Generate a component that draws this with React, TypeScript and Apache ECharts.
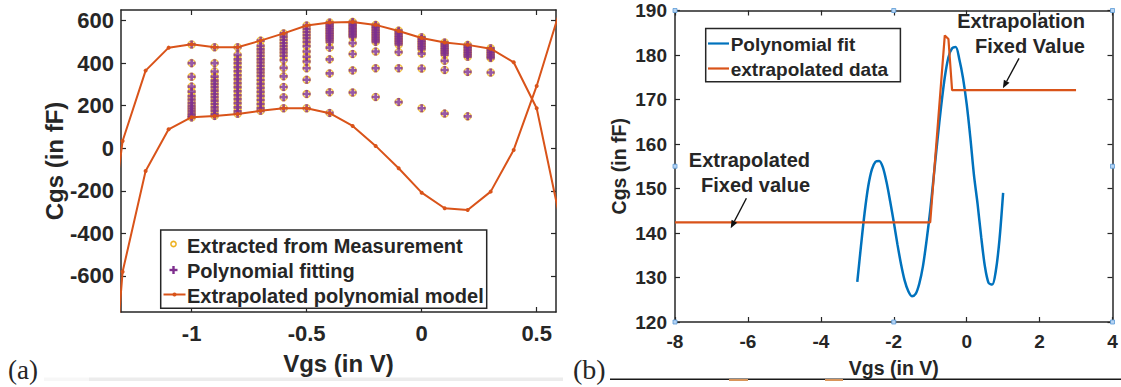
import React, { useEffect, useRef } from "react";
import * as echarts from "echarts";

// ---------------- Panel (a) : Cgs vs Vgs, polynomial model ----------------
const modelVgs = [-1.4, -1.3, -1.2, -1.1, -1.0, -0.9, -0.8, -0.7, -0.6, -0.5, -0.4, -0.3, -0.2, -0.1, 0.0, 0.1, 0.2, 0.3, 0.4, 0.5, 0.6];
const modelUpper = [-795, 34, 365, 473, 489, 475, 475, 506, 540, 577, 591, 594, 580, 551, 518, 497, 486, 468, 404, 188, -326];
const modelLower = [-1924, -581, -107, 89, 146, 152, 161, 176, 188, 188, 165, 105, 11, -94, -209, -282, -290, -204, -8, 293, 644];

const scatterVgs = [-1.0, -0.9, -0.8, -0.7, -0.6, -0.5, -0.4, -0.3, -0.2, -0.1, 0.0, 0.1, 0.2, 0.3];
const cgsAtM10 = [488, 400, 336, 290, 266, 245, 229, 213, 199, 187, 175, 163, 152, 145];
const cgsAtM09 = [475, 400, 361, 337, 318, 303, 287, 271, 255, 240, 224, 208, 192, 177, 161, 152];
const cgsAtM08 = [475, 439, 418, 400, 381, 362, 343, 325, 306, 287, 268, 249, 231, 212, 192, 174, 162];
const cgsAtM07 = [506, 481, 465, 450, 434, 418, 403, 387, 371, 356, 340, 321, 303, 284, 265, 246, 227, 208, 189, 176];
const cgsAtM06 = [540, 525, 510, 495, 480, 465, 450, 435, 415, 378, 338, 288, 240, 188];
const cgsAtM05 = [577, 562, 547, 532, 517, 500, 480, 455, 430, 408, 376, 322, 255, 188];
const cgsAtM04 = [591, 583, 575, 567, 559, 551, 543, 535, 527, 519, 511, 500, 473, 418, 352, 263, 166];
const cgsAtM03 = [594, 587, 580, 573, 566, 559, 552, 545, 538, 531, 524, 494, 443, 366, 262];
const cgsAtM02 = [580, 572, 564, 556, 548, 540, 532, 524, 516, 508, 500, 455, 376, 241];
const cgsAtM01 = [553, 545, 537, 529, 521, 513, 505, 497, 488, 452, 376, 217];
const cgsAtP00 = [522, 514, 506, 498, 490, 482, 474, 466, 445, 375, 188];
const cgsAtP01 = [497, 489, 481, 473, 465, 457, 449, 440, 411, 368, 163];
const cgsAtP02 = [486, 478, 470, 462, 454, 446, 438, 430, 359, 150];
const cgsAtP03 = [470, 462, 454, 446, 438, 430, 424, 356];
const scatterColumns = [cgsAtM10, cgsAtM09, cgsAtM08, cgsAtM07, cgsAtM06, cgsAtM05, cgsAtM04, cgsAtM03, cgsAtM02, cgsAtM01, cgsAtP00, cgsAtP01, cgsAtP02, cgsAtP03];

const aXTicks = [-1, -0.5, 0, 0.5];
const aYTicks = [-600, -400, -200, 0, 200, 400, 600];

// ---------------- Panel (b) : polynomial fit vs extrapolated data ----------------
const fitVgs = [-3.0, -2.9, -2.8, -2.7, -2.6, -2.5, -2.4, -2.3, -2.2, -2.1, -2.0, -1.9, -1.8, -1.7, -1.6, -1.5, -1.4, -1.3, -1.2, -1.1, -1.0, -0.9, -0.8, -0.7, -0.6, -0.5, -0.4, -0.3, -0.2, -0.1, 0.0, 0.1, 0.2, 0.3, 0.4, 0.5, 0.6, 0.7, 0.8, 0.9, 1.0];
const fitCgs = [129.0, 137.0, 144.5, 150.5, 154.3, 156.0, 156.2, 154.8, 151.5, 147.2, 142.5, 137.5, 133.0, 129.3, 126.9, 125.8, 126.3, 128.6, 132.5, 138.3, 145.0, 153.0, 161.0, 168.5, 175.0, 179.5, 181.5, 181.8, 179.0, 174.8, 169.0, 161.5, 153.0, 146.5, 139.0, 132.5, 128.8, 128.4, 131.5, 138.5, 149.0];
const extVgs = [-8, -1.0, -0.6, -0.5, -0.4, 3];
const extCgs = [142.4, 142.4, 184.4, 183.6, 172.1, 172.1];

const AX = "#262626";
const FONT = '"Liberation Sans", Arial, Helvetica, sans-serif';
const BLUE = "#0072BD";
const ORANGE = "#D95319";
const YELLOW = "#EDB120";
const PURPLE = "#7E2F8E";
const PLUS = "path://M3,0H6V3H9V6H6V9H3V6H0V3H3Z";

const pairs = (xs: number[], ys: number[]) => xs.map((x, i) => [x, ys[i]]);
const scatterData = scatterVgs.flatMap((x, i) => scatterColumns[i].map((y) => [x, y]));

function txt(x: number, y: number, text: string, size: number, align = "left", family = FONT, weight = "bold") {
  return {
    type: "text",
    x,
    y,
    z: 100,
    style: {
      text,
      font: `${weight} ${size}px ${family}`,
      fill: AX,
      textAlign: align,
      align,
      textVerticalAlign: "middle",
      verticalAlign: "middle",
    },
  };
}

function arrow(x1: number, y1: number, x2: number, y2: number) {
  const dx = x2 - x1, dy = y2 - y1;
  const L = Math.hypot(dx, dy);
  const ux = dx / L, uy = dy / L;
  const hl = 8, hw = 3.2;
  const bx = x2 - ux * hl, by = y2 - uy * hl;
  return [
    { type: "line", z: 100, shape: { x1, y1, x2: bx, y2: by }, style: { stroke: "#111", lineWidth: 1.4 } },
    {
      type: "polygon",
      z: 100,
      shape: { points: [[x2, y2], [bx - uy * hw, by + ux * hw], [bx + uy * hw, by - ux * hw]] },
      style: { fill: "#111" },
    },
  ];
}

function handle(cx: number, cy: number) {
  return { type: "rect", z: 100, shape: { x: cx - 2, y: cy - 2, width: 4, height: 4 }, style: { fill: "#b5d3f3", stroke: "#5b9bd5", lineWidth: 0.8 } };
}

const axisBase = (fs: number) => ({
  axisLine: { show: true, onZero: false, lineStyle: { color: AX, width: 1.5 } },
  splitLine: { show: false },
  axisLabel: { color: AX, fontSize: fs, fontWeight: "bold", fontFamily: FONT },
  nameTextStyle: { color: AX, fontWeight: "bold", fontFamily: FONT },
});

export default function App() {
  const ref = useRef<HTMLDivElement>(null);
  useEffect(() => {
    if (!ref.current) return;
    const chart = echarts.init(ref.current, undefined, { renderer: "svg" });

    const gA = { left: 121, top: 10, width: 435, height: 302 };
    const gB = { left: 675, top: 10.5, width: 437.5, height: 311.5 };

    const option: any = {
      animation: false,
      backgroundColor: "#fff",
      grid: [
        { ...gA, containLabel: false },
        { ...gB, containLabel: false },
      ],
      xAxis: [
        {
          ...axisBase(22),
          gridIndex: 0,
          type: "value",
          position: "bottom",
          min: -1.307,
          max: 0.584,
          axisTick: { show: true, inside: true, length: 5, customValues: aXTicks, lineStyle: { color: AX, width: 1.2 } },
          axisLabel: { ...axisBase(22).axisLabel, margin: 10, customValues: aXTicks },
          name: "Vgs (in V)",
          nameLocation: "middle",
          nameGap: 39,
          nameTextStyle: { ...axisBase(22).nameTextStyle, fontSize: 24 },
        },
        {
          ...axisBase(22),
          gridIndex: 0,
          type: "value",
          position: "top",
          min: -1.307,
          max: 0.584,
          axisTick: { show: true, inside: true, length: 5, customValues: aXTicks, lineStyle: { color: AX, width: 1.2 } },
          axisLabel: { show: false },
        },
        {
          ...axisBase(19),
          gridIndex: 1,
          type: "value",
          position: "bottom",
          min: -8,
          max: 4,
          interval: 2,
          axisTick: { show: true, inside: true, length: 5, lineStyle: { color: AX, width: 1.2 } },
          axisLabel: { ...axisBase(19).axisLabel, margin: 10 },
          name: "Vgs (in V)",
          nameLocation: "middle",
          nameGap: 36,
          nameTextStyle: { ...axisBase(19).nameTextStyle, fontSize: 19.5 },
        },
        {
          ...axisBase(19),
          gridIndex: 1,
          type: "value",
          position: "top",
          min: -8,
          max: 4,
          interval: 2,
          axisTick: { show: true, inside: true, length: 5, lineStyle: { color: AX, width: 1.2 } },
          axisLabel: { show: false },
        },
      ],
      yAxis: [
        {
          ...axisBase(22),
          gridIndex: 0,
          type: "value",
          position: "left",
          min: -770,
          max: 650,
          axisTick: { show: true, inside: true, length: 5, customValues: aYTicks, lineStyle: { color: AX, width: 1.2 } },
          axisLabel: { ...axisBase(22).axisLabel, margin: 7, customValues: aYTicks },
          name: "Cgs (in fF)",
          nameLocation: "middle",
          nameRotate: 90,
          nameGap: 54,
          nameTextStyle: { ...axisBase(22).nameTextStyle, fontSize: 24 },
        },
        {
          ...axisBase(22),
          gridIndex: 0,
          type: "value",
          position: "right",
          min: -770,
          max: 650,
          axisTick: { show: true, inside: true, length: 5, customValues: aYTicks, lineStyle: { color: AX, width: 1.2 } },
          axisLabel: { show: false },
        },
        {
          ...axisBase(19),
          gridIndex: 1,
          type: "value",
          position: "left",
          min: 120,
          max: 190,
          interval: 10,
          axisTick: { show: true, inside: true, length: 5, lineStyle: { color: AX, width: 1.2 } },
          axisLabel: { ...axisBase(19).axisLabel, margin: 8 },
          name: "Cgs (in fF)",
          nameLocation: "middle",
          nameRotate: 90,
          nameGap: 46,
          nameTextStyle: { ...axisBase(19).nameTextStyle, fontSize: 19.5 },
        },
        {
          ...axisBase(19),
          gridIndex: 1,
          type: "value",
          position: "right",
          min: 120,
          max: 190,
          interval: 10,
          axisTick: { show: true, inside: true, length: 5, lineStyle: { color: AX, width: 1.2 } },
          axisLabel: { show: false },
        },
      ],
      series: [
        {
          name: "Extracted from Measurement",
          type: "scatter",
          xAxisIndex: 0,
          yAxisIndex: 0,
          data: scatterData,
          symbol: "circle",
          symbolSize: 7,
          itemStyle: { color: "rgba(0,0,0,0)", borderColor: YELLOW, borderWidth: 1.5 },
          silent: true,
        },
        {
          name: "Polynomial fitting",
          type: "scatter",
          xAxisIndex: 0,
          yAxisIndex: 0,
          data: scatterData,
          symbol: PLUS,
          symbolSize: 8,
          itemStyle: { color: PURPLE },
          silent: true,
        },
        {
          name: "Extrapolated polynomial model",
          type: "line",
          xAxisIndex: 0,
          yAxisIndex: 0,
          data: pairs(modelVgs, modelUpper),
          symbol: "circle",
          symbolSize: 4,
          showAllSymbol: true,
          clip: true,
          lineStyle: { color: ORANGE, width: 2 },
          itemStyle: { color: ORANGE },
          silent: true,
        },
        {
          name: "Extrapolated polynomial model",
          type: "line",
          xAxisIndex: 0,
          yAxisIndex: 0,
          data: pairs(modelVgs, modelLower),
          symbol: "circle",
          symbolSize: 4,
          showAllSymbol: true,
          clip: true,
          lineStyle: { color: ORANGE, width: 2 },
          itemStyle: { color: ORANGE },
          silent: true,
        },
        {
          name: "Polynomial fit",
          type: "line",
          xAxisIndex: 2,
          yAxisIndex: 2,
          data: pairs(fitVgs, fitCgs),
          showSymbol: false,
          smooth: 0.3,
          lineStyle: { color: BLUE, width: 2.5 },
          itemStyle: { color: BLUE },
          silent: true,
        },
        {
          name: "extrapolated data",
          type: "line",
          xAxisIndex: 2,
          yAxisIndex: 2,
          data: pairs(extVgs, extCgs),
          showSymbol: false,
          lineStyle: { color: ORANGE, width: 2.2 },
          itemStyle: { color: ORANGE },
          silent: true,
        },
      ],
      graphic: [
        // legend (a)
        { type: "rect", z: 99, shape: { x: 160.7, y: 230, width: 326, height: 78.3 }, style: { fill: "#fff", stroke: AX, lineWidth: 1.5 } },
        { type: "circle", z: 100, shape: { cx: 173.5, cy: 244, r: 2.6 }, style: { fill: "none", stroke: YELLOW, lineWidth: 1.5 } },
        { type: "rect", z: 100, shape: { x: 169.5, y: 268.8, width: 8, height: 2.4 }, style: { fill: PURPLE } },
        { type: "rect", z: 100, shape: { x: 172.3, y: 266, width: 2.4, height: 8 }, style: { fill: PURPLE } },
        { type: "line", z: 100, shape: { x1: 163.5, y1: 294.5, x2: 185.5, y2: 294.5 }, style: { stroke: ORANGE, lineWidth: 2 } },
        { type: "circle", z: 100, shape: { cx: 174.5, cy: 294.5, r: 2 }, style: { fill: ORANGE } },
        txt(187, 245.5, "Extracted from Measurement", 20),
        txt(187, 270.5, "Polynomial fitting", 20),
        txt(187, 295.5, "Extrapolated polynomial model", 20),
        // legend (b)
        { type: "rect", z: 99, shape: { x: 705.7, y: 28.5, width: 194.7, height: 53.2 }, style: { fill: "#fff", stroke: AX, lineWidth: 1.5 } },
        { type: "line", z: 100, shape: { x1: 708, y1: 43.5, x2: 729, y2: 43.5 }, style: { stroke: BLUE, lineWidth: 2.2 } },
        { type: "line", z: 100, shape: { x1: 708, y1: 68.5, x2: 729, y2: 68.5 }, style: { stroke: ORANGE, lineWidth: 2.2 } },
        txt(730.7, 44, "Polynomial fit", 19),
        txt(730.7, 69, "extrapolated data", 19),
        // annotations (b)
        txt(1085, 21, "Extrapolation", 20, "right"),
        txt(1085, 46, "Fixed Value", 20, "right"),
        ...arrow(1019, 58.3, 1002.9, 88.3),
        txt(810, 160, "Extrapolated", 20, "right"),
        txt(810, 185, "Fixed value", 20, "right"),
        ...arrow(746.4, 198.3, 730.7, 228.3),
        // selection handles on (b)
        handle(675, 10.5), handle(893.75, 10.5), handle(1112.5, 10.5),
        handle(675, 166.25), handle(1112.5, 166.25),
        handle(675, 322), handle(893.75, 322), handle(1112.5, 322),
        // captions and page rules
        { type: "rect", z: 1, shape: { x: 44, y: 377.5, width: 45, height: 3.5 }, style: { fill: "#f7f7f7" } },
        { type: "rect", z: 1, shape: { x: 89, y: 377.5, width: 474, height: 3.5 }, style: { fill: "#ececec" } },
        { type: "rect", z: 1, shape: { x: 610, y: 378.5, width: 511, height: 1.6 }, style: { fill: "#1a1a1a" } },
        { type: "rect", z: 2, shape: { x: 729, y: 379, width: 19, height: 2 }, style: { fill: "#d9955a" } },
        { type: "rect", z: 2, shape: { x: 825, y: 379, width: 18, height: 2 }, style: { fill: "#d9955a" } },
        txt(8, 370, "(a)", 27, "left", '"Liberation Serif", "Times New Roman", serif', "normal"),
        txt(573, 369, "(b)", 28, "left", '"Liberation Serif", "Times New Roman", serif', "normal"),
      ],
    };

    chart.setOption(option);
    return () => chart.dispose();
  }, []);

  return (
    <div
      ref={ref}
      style={{ position: "fixed", left: 0, top: 0, width: 1121, height: 387, background: "#fff" }}
    />
  );
}
